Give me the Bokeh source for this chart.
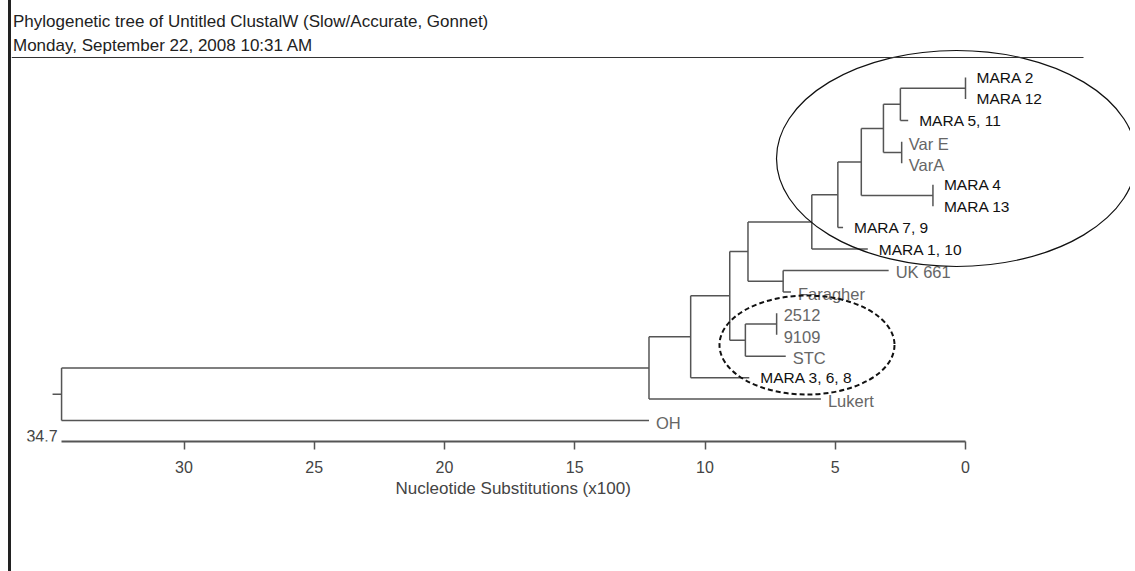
from bokeh.plotting import figure
from bokeh.models import Range1d, LinearAxis, FixedTicker, Label, ColumnDataSource, Title
from bokeh.core.properties import value
from bokeh.embed import file_html
from bokeh.resources import INLINE

# ---------------- data ----------------
title_line1 = "Phylogenetic tree of Untitled ClustalW (Slow/Accurate, Gonnet)"
title_line2 = "Monday, September 22, 2008 10:31 AM"
axis_title = "Nucleotide Substitutions (x100)"
tick_values = [0, 5, 10, 15, 20, 25, 30]
total_length = 34.7

# leaves, top to bottom, with their distance from the right-hand origin (x100 substitutions)
leaf_names = ["MARA 2", "MARA 12", "MARA 5, 11", "Var E", "VarA", "MARA 4", "MARA 13",
              "MARA 7, 9", "MARA 1, 10", "UK 661", "Faragher", "2512", "9109", "STC",
              "MARA 3, 6, 8", "Lukert", "OH"]
leaf_dist = [0.0, 0.0, 2.2, 2.45, 2.45, 1.25, 1.25, 4.7, 3.75, 2.95, 6.7, 7.25, 7.25, 6.9,
             8.3, 5.55, 12.15]
leaf_group = ["mara", "mara", "mara", "ref", "ref", "mara", "mara", "mara", "mara", "ref",
              "ref", "ref", "ref", "ref", "mara", "ref", "ref"]

# internal nodes (children listed top to bottom) and their distances
node_names = ["A", "B", "D", "C", "F", "E", "G", "H", "J", "I", "K", "L", "M", "N", "O", "R"]
node_children = [["MARA 2", "MARA 12"], ["A", "MARA 5, 11"], ["Var E", "VarA"], ["B", "D"],
                 ["MARA 4", "MARA 13"], ["C", "F"], ["E", "MARA 7, 9"], ["G", "MARA 1, 10"],
                 ["UK 661", "Faragher"], ["H", "J"], ["2512", "9109"], ["K", "STC"],
                 ["I", "L"], ["M", "MARA 3, 6, 8"], ["N", "Lukert"], ["O", "OH"]]
node_dist = [0.0, 2.5, 2.45, 3.15, 1.25, 4.0, 4.9, 5.9, 7.0, 8.35, 7.25, 8.45, 9.05, 10.55,
             12.15, total_length]

# ---------------- layout (pixels) ----------------
W, H = 1122, 571
FRAME_H = 441
PAGE_X0, PAGE_Y0 = 11, 0           # page position of the canvas (8px margin + 3px border)
ZERO_PX = 965                      # page x of distance 0
PX_PER_UNIT = 26.05
LEAF0_PY = 77                      # page y of first leaf
LEAF_STEP = 21.44


def dx(page_x):
    return (ZERO_PX - page_x) / PX_PER_UNIT


def dy(page_y):
    return (page_y - LEAF0_PY) / LEAF_STEP


# ---------------- tree geometry ----------------
pos_x = {n: d for n, d in zip(leaf_names, leaf_dist)}
pos_y = {n: i for i, n in enumerate(leaf_names)}
for n, ch, d in zip(node_names, node_children, node_dist):
    pos_x[n] = d
    pos_y[n] = (pos_y[ch[0]] + pos_y[ch[-1]]) / 2.0

x0, y0, x1, y1 = [], [], [], []
for n, ch in zip(node_names, node_children):
    x0.append(pos_x[n]); y0.append(pos_y[ch[0]]); x1.append(pos_x[n]); y1.append(pos_y[ch[-1]])
    for c in ch:
        x0.append(pos_x[n]); y0.append(pos_y[c]); x1.append(pos_x[c]); y1.append(pos_y[c])
root = node_names[-1]
stub = 9 / PX_PER_UNIT
x0.append(pos_x[root] + stub); y0.append(pos_y[root]); x1.append(pos_x[root]); y1.append(pos_y[root])

p = figure(width=W, height=H,
           x_range=Range1d(dx(PAGE_X0), dx(PAGE_X0 + W)),
           y_range=Range1d(dy(PAGE_Y0 + FRAME_H), dy(PAGE_Y0)),
           output_backend="svg", toolbar_location=None,
           x_axis_location=None, y_axis_location=None,
           min_border_left=0, min_border_right=0, min_border_top=0,
           min_border_bottom=H - FRAME_H, outline_line_color=None,
           styles={"margin-left": "8px", "border-left": "3px solid #222"})
p.grid.visible = False
p.background_fill_color = "white"
p.border_fill_color = "white"

FONT = value("Liberation Sans")

p.segment(x0=x0, y0=y0, x1=x1, y1=y1, line_color="#555555", line_width=1.5)

# leaf labels
for grp, col, size, off, yoff in [("mara", "#111111", "15.5px", 11, 0),
                                  ("ref", "#666666", "16.5px", 7, 2)]:
    idx = [i for i, g in enumerate(leaf_group) if g == grp]
    src = ColumnDataSource(dict(x=[leaf_dist[i] for i in idx], y=[i for i in idx],
                                t=[leaf_names[i] for i in idx]))
    p.text(x="x", y="y", text="t", source=src, text_font=FONT, text_font_size=size,
           text_color=col, text_baseline="middle", text_align="left",
           x_offset=off, y_offset=yoff)

# highlighting ellipses
p.ellipse(x=[dx(956)], y=[dy(158)], width=[360 / PX_PER_UNIT], height=[216 / LEAF_STEP],
          fill_color=None, line_color="#111111", line_width=1.2)
p.ellipse(x=[dx(806.5)], y=[dy(344.5)], width=[175 / PX_PER_UNIT], height=[99 / LEAF_STEP],
          fill_color=None, line_color="#111111", line_width=2, line_dash="5 3")

# header
p.segment(x0=[dx(PAGE_X0)], y0=[dy(57)], x1=[dx(1083)], y1=[dy(57)],
          line_color="#333333", line_width=1.2)
p.add_layout(Label(x=dx(12.5), y=dy(21), text=title_line1, text_font="Liberation Sans",
                   text_font_size="17px", text_color="#222222", text_baseline="alphabetic"))
p.add_layout(Label(x=dx(12.5), y=dy(45), text=title_line2, text_font="Liberation Sans",
                   text_font_size="17px", text_color="#222222", text_baseline="alphabetic"))

# axis
ax = LinearAxis(ticker=FixedTicker(ticks=tick_values), bounds=(0, total_length))
ax.axis_line_color = "#555555"
ax.axis_line_width = 2
ax.major_tick_line_color = "#555555"
ax.major_tick_line_width = 1.5
ax.major_tick_out = 8
ax.major_tick_in = 0
ax.minor_tick_line_color = None
ax.major_label_text_font = "Liberation Sans"
ax.major_label_text_font_size = "16px"
ax.major_label_text_color = "#444444"
ax.major_label_standoff = 11
p.add_layout(ax, "below")

p.add_layout(Title(text=axis_title, align="left", offset=384, text_font="Liberation Sans",
                   text_font_size="17px", text_font_style="normal", text_color="#444444",
                   standoff=2), "below")

p.add_layout(Label(x=total_length, y=dy(435), text="34.7", x_offset=-4, text_align="right",
                   text_baseline="middle", text_font="Liberation Sans", text_font_size="16px",
                   text_color="#444444"))

open("out.html", "w").write(file_html(p, INLINE))
